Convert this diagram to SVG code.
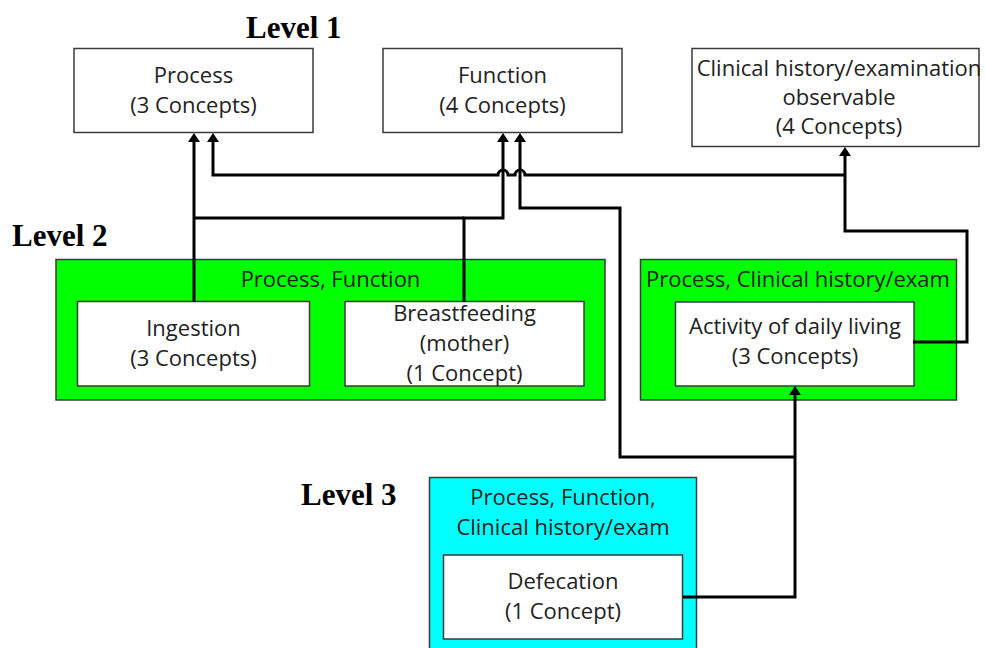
<svg xmlns="http://www.w3.org/2000/svg" width="986" height="648" viewBox="0 0 986 648">
  <style>
    .box { fill: #ffffff; stroke: #3a3a3a; stroke-width: 1.5; }
    .grp-green { fill: #00ff00; stroke: #3a3a3a; stroke-width: 1.5; }
    .grp-cyan { fill: #00ffff; stroke: #3a3a3a; stroke-width: 1.5; }
    .t { font-family: "Open Sans", "Liberation Sans", sans-serif; font-size: 22px; fill: #222222; text-anchor: middle; }
    .lvl { font-family: "Liberation Serif", "Times New Roman", serif; font-size: 31px; font-weight: bold; fill: #000000; }
    .conn { fill: none; stroke: #000000; stroke-width: 3; stroke-linejoin: miter; }
  </style>
  <defs>
    <marker id="arrow" markerUnits="userSpaceOnUse" markerWidth="10" markerHeight="12" refX="3" refY="6" orient="auto">
      <path d="M0,0 L9,6 L0,12 z" fill="#000000"/>
    </marker>
  </defs>

  <rect width="986" height="648" fill="#ffffff"/>

  <!-- level labels -->
  <text class="lvl" x="246" y="38">Level 1</text>
  <text class="lvl" x="12" y="246">Level 2</text>
  <text class="lvl" x="301" y="505">Level 3</text>

  <!-- level 1 -->
  <g id="process">
    <rect class="box" x="74" y="48.5" width="239" height="84"/>
    <text class="t" x="193.5" y="83">Process</text>
    <text class="t" x="193.5" y="113">(3 Concepts)</text>
  </g>
  <g id="function">
    <rect class="box" x="383" y="48.5" width="239" height="84"/>
    <text class="t" x="502.5" y="83">Function</text>
    <text class="t" x="502.5" y="113">(4 Concepts)</text>
  </g>
  <g id="clinical">
    <rect class="box" x="692" y="48.5" width="287" height="98"/>
    <text class="t" x="839" y="76">Clinical history/examination</text>
    <text class="t" x="839" y="105">observable</text>
    <text class="t" x="839" y="134">(4 Concepts)</text>
  </g>

  <!-- level 2 -->
  <g id="group-process-function">
    <rect class="grp-green" x="56" y="259.5" width="549" height="140.5"/>
    <text class="t" x="330.5" y="287">Process, Function</text>
  </g>
  <g id="ingestion">
    <rect class="box" x="77.5" y="301.5" width="232" height="84.5"/>
    <text class="t" x="193.5" y="336">Ingestion</text>
    <text class="t" x="193.5" y="366">(3 Concepts)</text>
  </g>
  <g id="breastfeeding">
    <rect class="box" x="345" y="301.5" width="239" height="84.5"/>
    <text class="t" x="464.5" y="321">Breastfeeding</text>
    <text class="t" x="464.5" y="351">(mother)</text>
    <text class="t" x="464.5" y="380.5">(1 Concept)</text>
  </g>
  <g id="group-process-clinical">
    <rect class="grp-green" x="640.5" y="259.5" width="316" height="140.5"/>
    <text class="t" x="798" y="287">Process, Clinical history/exam</text>
  </g>
  <g id="daily-living">
    <rect class="box" x="675.5" y="302" width="238.5" height="84"/>
    <text class="t" x="795" y="334">Activity of daily living</text>
    <text class="t" x="795" y="364">(3 Concepts)</text>
  </g>

  <!-- level 3 -->
  <g id="group-all">
    <rect class="grp-cyan" x="429.5" y="477.5" width="267" height="180"/>
    <text class="t" x="563" y="505">Process, Function,</text>
    <text class="t" x="563" y="535">Clinical history/exam</text>
  </g>
  <g id="defecation">
    <rect class="box" x="443.5" y="555" width="239" height="84"/>
    <text class="t" x="563" y="588.5">Defecation</text>
    <text class="t" x="563" y="618.5">(1 Concept)</text>
  </g>

  <!-- connectors -->
  <g id="connectors">
    <!-- ingestion / breastfeeding to process and function -->
    <path class="conn" d="M194,302 V139" marker-end="url(#arrow)"/>
    <path class="conn" d="M194,218 H464"/>
    <path class="conn" d="M464,302 V218 H503 V139" marker-end="url(#arrow)"/>
    <!-- activity of daily living to clinical and process -->
    <path class="conn" d="M913,342 H967 V231 H845 V153" marker-end="url(#arrow)"/>
    <path class="conn" d="M845,175 H525 a5,5 0 0 0 -10,0 H508 a5,5 0 0 0 -10,0 H213 V139" marker-end="url(#arrow)"/>
    <!-- defecation to activity of daily living and function -->
    <path class="conn" d="M683,597 H795 V392" marker-end="url(#arrow)"/>
    <path class="conn" d="M795,457 H620 V208 H520 V139" marker-end="url(#arrow)"/>
  </g>
</svg>
